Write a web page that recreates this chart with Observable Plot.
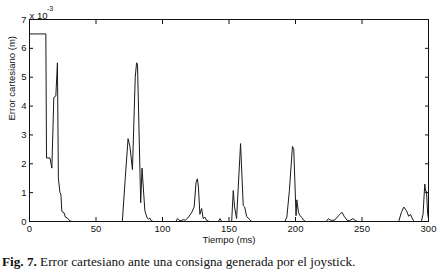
<!DOCTYPE html>
<html><head><meta charset="utf-8">
<script src="https://cdn.jsdelivr.net/npm/d3@7"></script>
<script src="https://cdn.jsdelivr.net/npm/@observablehq/plot@0.6"></script>
<style>
html,body{margin:0;padding:0;background:#fff;}
#wrap{position:relative;width:440px;height:273px;overflow:hidden;}
#caption{position:absolute;left:2px;top:254px;font-family:"Liberation Serif","Times New Roman",serif;font-size:13.2px;color:#111;white-space:nowrap;line-height:16px;}
</style></head><body><div id="wrap"><div id="chart"></div><div id="caption"><b>Fig. 7.</b> Error cartesiano ante una consigna generada por el joystick.</div></div>
<script>
// Time (ms)
const timeMs = [0,12.3,12.8,15.4,16.8,18.3,19.8,21.0,21.7,22.9,23.6,24.3,26.0,27.0,28.5,30.5,32,
  69.8,72,74.1,75.5,77.4,79.5,80.5,81.2,83.6,84.6,86.7,87.5,88.5,89.5,90.5,91.5,93,
  110,111.3,112.5,114,115.5,117.3,119,121.8,123.8,125.2,126.2,127.0,128.1,129.4,130.6,131.9,133,135,
  142,143.2,144.5,152,153.2,154.2,155.7,158.7,160.7,161.8,163.3,165.8,167,
  192,193.5,195.4,197.7,198.7,200.4,201,202.3,203.5,204.7,206,207.5,
  223,224.8,226,227.3,229.5,232.3,234.9,236.6,238.6,240.5,243.2,244.9,246.5,
  277.6,279.5,281.4,283.4,285.1,286.4,288.4,289.5,294.6,295.9,297.2,297.8,298.5,299.4,300];
// Cartesian error (x 10^-3 m)
const errorE3 = [6.5,6.5,2.2,2.2,1.85,4.3,4.35,5.5,1.5,1.0,0.95,0.35,0.3,0.15,0.12,0.02,0,
  0,1.5,2.87,2.6,1.8,5.0,5.5,5.45,0.65,1.85,0.4,0.25,0.12,0.08,0.12,0.03,0,
  0,0.1,0.04,0.03,0.06,0.05,0.12,0.3,0.5,1.35,1.48,1.2,0.25,0.45,0.1,0.15,0.05,0,
  0,0.1,0,0,1.07,0.5,0.1,2.7,0.55,0.5,0.17,0.06,0,
  0,0.15,1.07,2.6,2.5,0.2,0.75,0.3,0.2,0.14,0.05,0,
  0,0.1,0.05,0.04,0.05,0.2,0.32,0.18,0.05,0.03,0.1,0.04,0,
  0,0.3,0.5,0.38,0.18,0.25,0.05,0,0,0.25,1.3,1.05,1.05,0.25,0.1];
const xTicks = [0,50,100,150,200,250,300];
const yTicks = [0,1,2,3,4,5,6,7];
const xLabel = "Tiempo (ms)";
const yLabel = "Error cartesiano (m)";
const yScaleNote = "x 10";
const yScaleExp = "-3";

const data = timeMs.map((t, i) => ({t, e: errorE3[i]}));
const ink = "#111";
const chart = Plot.plot({
  width: 440, height: 246,
  marginLeft: 29, marginRight: 12, marginTop: 19, marginBottom: 25,
  style: {fontFamily: '"Liberation Sans", Arial, sans-serif', fontSize: "9.5px", color: ink, background: "#fff", overflow: "visible"},
  x: {domain: [0, 300]},
  y: {domain: [0, 7]},
  marks: [
    Plot.line(data, {x: "t", y: "e", stroke: "#1a1a1a", strokeWidth: 1}),
    Plot.frame({stroke: ink, strokeWidth: 1}),
    Plot.axisX(xTicks, {anchor: "bottom", tickSize: 4, dy: -4, tickFormat: () => "", label: null}),
    Plot.axisX(xTicks, {anchor: "top", tickSize: 4, dy: 4, tickFormat: () => "", label: null}),
    Plot.axisY(yTicks, {anchor: "left", tickSize: 4, dx: 4, tickFormat: () => "", label: null}),
    Plot.axisY(yTicks, {anchor: "right", tickSize: 4, dx: -4, tickFormat: () => "", label: null}),
    Plot.axisX(xTicks, {anchor: "bottom", tickSize: 0, tickPadding: 4, label: null}),
    Plot.axisY(yTicks, {anchor: "left", tickSize: 0, tickPadding: 3, label: null}),
    Plot.text([xLabel], {frameAnchor: "bottom", dy: 21.5, fontSize: 9.5}),
    Plot.text([yLabel], {frameAnchor: "left", rotate: -90, dx: -18, fontSize: 9.5}),
    Plot.text([yScaleNote], {frameAnchor: "top-left", textAnchor: "start", dx: 0, dy: -7.5, fontSize: 9.5}),
    Plot.text([yScaleExp], {frameAnchor: "top-left", textAnchor: "start", dx: 17.5, dy: -13.5, fontSize: 7})
  ]
});
document.getElementById("chart").appendChild(chart);
</script>
</body></html>
